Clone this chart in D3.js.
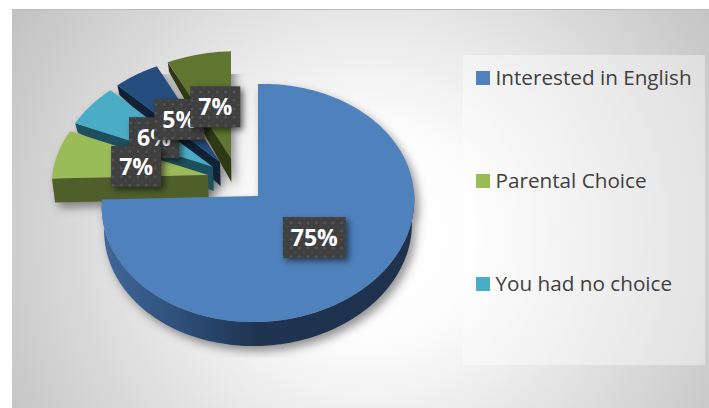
<!DOCTYPE html>
<html>
<head>
<meta charset="utf-8">
<script src="https://cdn.jsdelivr.net/npm/d3@7"></script>
<style>
html, body { margin: 0; padding: 0; background: #fff; }
svg { display: block; }
</style>
</head>
<body>
<svg></svg>
<script>
// slices run clockwise from twelve o'clock
const values = [75, 7, 6, 5, 7];
const legendNames = ["Interested in English", "Parental Choice", "You had no choice"];

const topColors = ["#4f81bd", "#9bbb59", "#4bacc6", "#254e7e", "#5f7530"];
const wallColors = ["url(#blueWall)", "#4f5f2a", "#1d4f5e", "#0f2238", "#2f3a15"];

// where each slice's tip ends up, relative to the pie centre
const shiftX = [0, -50, -45, -38, -27];
const shiftY = [0, -21, -29, -34, -38];
const radiusK = [1, 0.95, 0.95, 0.95, 0.95];

const drawOrder = [4, 3, 2, 1, 0];
const labelOrder = [0, 2, 1, 3, 4];

const svgWidth = 709;
const svgHeight = 408;
const cx = 258, cy = 196;
const depth = 24;
const tilt = 0.0588;

const svg = d3.select("svg")
    .attr("width", svgWidth)
    .attr("height", svgHeight);

const defs = svg.append("defs");

const bg = defs.append("radialGradient")
    .attr("id", "bg")
    .attr("gradientUnits", "userSpaceOnUse")
    .attr("cx", 370).attr("cy", 235).attr("r", 420);
bg.append("stop").attr("offset", 0).attr("stop-color", "#ffffff");
bg.append("stop").attr("offset", 0.25).attr("stop-color", "#fdfdfd");
bg.append("stop").attr("offset", 1).attr("stop-color", "#c2c2c2");

const wall = defs.append("linearGradient")
    .attr("id", "blueWall")
    .attr("gradientUnits", "userSpaceOnUse")
    .attr("x1", 100).attr("x2", 416).attr("y1", 0).attr("y2", 0);
wall.append("stop").attr("offset", 0).attr("stop-color", "#41699b");
wall.append("stop").attr("offset", 0.3).attr("stop-color", "#2a4a72");
wall.append("stop").attr("offset", 0.5).attr("stop-color", "#1f3450");
wall.append("stop").attr("offset", 1).attr("stop-color", "#1e324e");

const dots = defs.append("pattern")
    .attr("id", "dots")
    .attr("patternUnits", "userSpaceOnUse")
    .attr("width", 8.4).attr("height", 8.4);
dots.append("rect").attr("width", 8.4).attr("height", 8.4).attr("fill", "#3f3f3f");
dots.append("circle").attr("cx", 2).attr("cy", 2).attr("r", 1.3).attr("fill", "#575757");
dots.append("circle").attr("cx", 6.2).attr("cy", 6.2).attr("r", 1).attr("fill", "#4b4b4b");

const blurBig = defs.append("filter").attr("id", "blurBig")
    .attr("x", "-20%").attr("y", "-20%").attr("width", "140%").attr("height", "140%");
blurBig.append("feGaussianBlur").attr("stdDeviation", 5);

const blurBox = defs.append("filter").attr("id", "blurBox")
    .attr("x", "-30%").attr("y", "-30%").attr("width", "160%").attr("height", "160%");
blurBox.append("feGaussianBlur").attr("stdDeviation", 3);

defs.append("clipPath").attr("id", "shadowClip")
    .append("rect").attr("x", 30).attr("y", 74).attr("width", 398).attr("height", 284);

// chart area and legend panel
svg.append("rect")
    .attr("x", 12).attr("y", 10)
    .attr("width", svgWidth - 12).attr("height", svgHeight - 10)
    .attr("fill", "url(#bg)");
svg.append("rect")
    .attr("x", 12).attr("y", 9)
    .attr("width", svgWidth - 12).attr("height", 1)
    .attr("fill", "#bdbdbd");
svg.append("rect")
    .attr("x", 463).attr("y", 55)
    .attr("width", 242).attr("height", 310)
    .attr("fill", "#fff").attr("fill-opacity", 0.4);

const pie = d3.pie().sort(null).value(d => d);
const arcs = pie(values);

const xScale = d3.scaleLinear().domain([-1, 1]).range([cx - 156, cx + 156]);
const yScale = d3.scaleLinear().domain([-1, 1]).range([cy - 118.6, cy + 118.6]);

// point on the disc, with a little perspective, at the top or bottom rim
// pulled-out slices keep their full width but lose some height, hence xk
function project(angle, r, i, low, xk = 1) {
    const u = Math.sin(angle) * r * xk;
    const v = -Math.cos(angle) * r;
    const p = 1 / (1 - tilt * v);
    let x = xScale(u * p);
    let y = yScale(v * p) - 0.022 * (x - cx);
    x += shiftX[i];
    y += shiftY[i];
    if (low) {
        const squeeze = Math.max(0, Math.min(0.6, -v * 2.5));
        x = cx + (x - cx) * 0.985;
        y += depth * (1 - squeeze);
    }
    return [x, y];
}

function rim(a0, a1, i, low) {
    const n = Math.max(2, Math.ceil((a1 - a0) / 0.02));
    return d3.range(n + 1).map(k => project(a0 + (a1 - a0) * k / n, radiusK[i], i, low, 1 / radiusK[i]));
}

const line = d3.line();

function topPath(d, i) {
    const tip = project(0, 0, i, false);
    return line([tip].concat(rim(d.startAngle, d.endAngle, i, false))) + "Z";
}

// outer wall, only where the rim faces the viewer
function outerWall(d, i) {
    const a0 = Math.max(d.startAngle, Math.PI / 2);
    const a1 = Math.min(d.endAngle, 3 * Math.PI / 2);
    if (a1 <= a0) return null;
    return line(rim(a0, a1, i, false).concat(rim(a0, a1, i, true).reverse())) + "Z";
}

// cut face along the slice's first edge
function cutFace(d, i) {
    if (i === 0) return null;
    const r = radiusK[i];
    return line([
        project(d.startAngle, r, i, false, 1 / r),
        project(0, 0, i, false),
        project(0, 0, i, true),
        project(d.startAngle, r, i, true, 1 / r)
    ]) + "Z";
}

// soft shadow under the whole pie
const shadow = svg.append("g")
    .attr("clip-path", "url(#shadowClip)")
    .append("g")
    .attr("filter", "url(#blurBig)")
    .attr("transform", "translate(4,5)")
    .attr("fill", "#000")
    .attr("fill-opacity", 0.42);

arcs.forEach((d, i) => {
    shadow.append("path").attr("d", outerWall(d, i));
    shadow.append("path").attr("d", cutFace(d, i));
    shadow.append("path").attr("d", topPath(d, i));
});

// slices, back to front
const slices = svg.append("g")
    .selectAll("g")
    .data(drawOrder)
    .enter().append("g");

slices.append("path")
    .attr("d", i => outerWall(arcs[i], i))
    .attr("fill", i => wallColors[i]);
slices.append("path")
    .attr("d", i => cutFace(arcs[i], i))
    .attr("fill", i => wallColors[i]);
slices.append("path")
    .attr("d", i => topPath(arcs[i], i))
    .attr("fill", i => topColors[i]);

// data labels sit halfway along each slice's middle
function labelPos(i) {
    const d = arcs[i];
    const p = project((d.startAngle + d.endAngle) / 2, radiusK[i] * 0.5, i, false);
    return [p[0], i === 0 ? p[1] : p[1] + 2];
}

const labels = svg.append("g")
    .selectAll("g")
    .data(labelOrder)
    .enter().append("g")
    .attr("transform", i => "translate(" + labelPos(i) + ")");

const boxW = i => (values[i] >= 10 ? 63 : 50);
const boxH = 41;

labels.append("rect")
    .attr("x", i => -boxW(i) / 2 + 3)
    .attr("y", -boxH / 2 + 3)
    .attr("width", boxW)
    .attr("height", boxH)
    .attr("fill", "#000")
    .attr("fill-opacity", 0.55)
    .attr("filter", "url(#blurBox)");

labels.append("rect")
    .attr("x", i => -boxW(i) / 2)
    .attr("y", -boxH / 2)
    .attr("width", boxW)
    .attr("height", boxH)
    .attr("fill", "url(#dots)");

labels.append("text")
    .attr("text-anchor", "middle")
    .attr("dy", "0.36em")
    .attr("font-family", "'Open Sans', sans-serif")
    .attr("font-weight", 700)
    .attr("font-size", 23)
    .attr("fill", "#fff")
    .text(i => values[i] + "%");

// legend
const legendY = d3.scalePoint().domain(legendNames).range([78, 284]);

const legend = svg.append("g")
    .selectAll("g")
    .data(legendNames)
    .enter().append("g")
    .attr("transform", d => "translate(476," + legendY(d) + ")");

legend.append("rect")
    .attr("y", -7)
    .attr("width", 14)
    .attr("height", 14)
    .attr("fill", (d, i) => topColors[i]);

legend.append("text")
    .attr("x", 19.5)
    .attr("dy", "0.34em")
    .attr("font-family", "'Open Sans', sans-serif")
    .attr("font-size", 20.7)
    .attr("fill", "#404040")
    .text(d => d);
</script>
</body>
</html>
